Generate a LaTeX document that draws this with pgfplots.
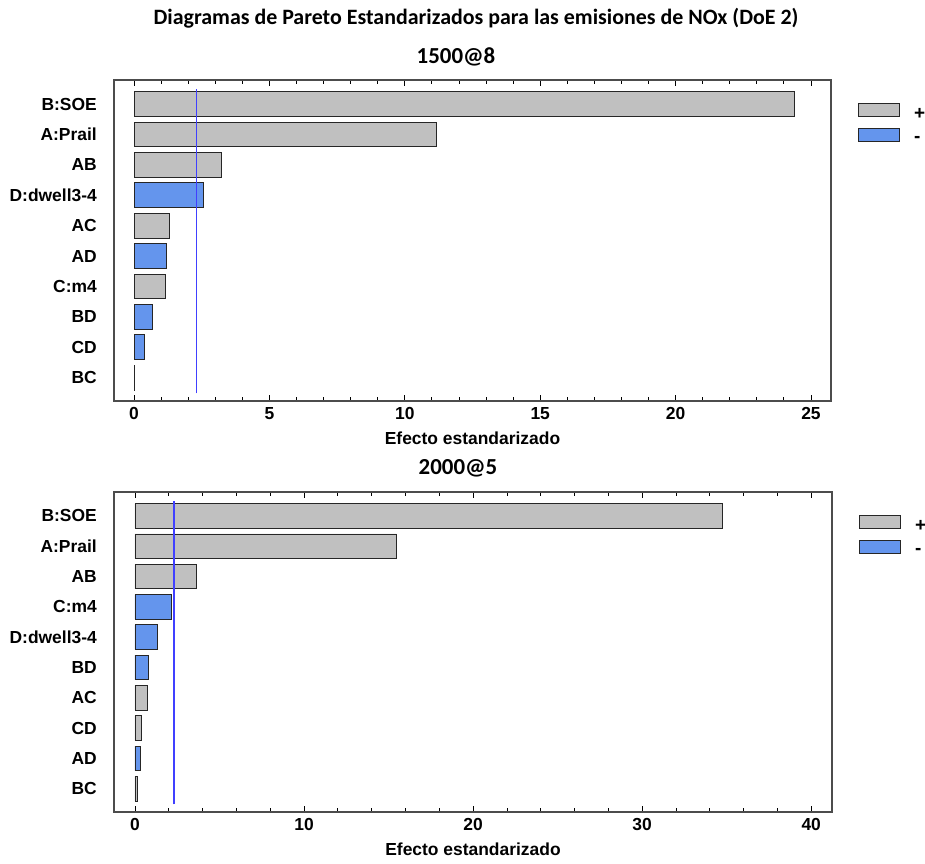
\documentclass[border=0pt]{standalone}
\usepackage{fontspec}
\setmainfont{Liberation Sans}
\newfontfamily\calfont{Carlito}
\usepackage{pgfplots}
\pgfplotsset{compat=1.18}
\definecolor{barg}{RGB}{192,192,192}
\definecolor{barb}{RGB}{100,149,237}
\definecolor{lineb}{RGB}{64,64,255}
\pgfplotsset{
  pareto/.style={
    scale only axis, anchor=north west,
    xbar, bar shift=0pt, bar width=0.81,
    ymin=0.23, ymax=10.79,
    ytick={1,...,10},
    ytick style={draw=none},
    axis line style={black!70, line width=1.2bp},
    xtick style={black, line width=0.8bp},
    major tick length=6bp, minor tick length=4bp,
    tick align=inside,
    xticklabel pos=lower,
    /pgf/number format/assume math mode=true,
    tick label style={font=\bfseries\fontsize{17.5}{19}\selectfont},
    yticklabel style={inner sep=0pt, xshift=-17bp},
    xticklabel style={inner sep=0pt, yshift=-6bp},
    xlabel={Efecto estandarizado},
    xlabel style={font=\bfseries\fontsize{17.5}{19}\selectfont, inner sep=0pt, yshift=-12bp},
    legend style={draw=none, fill=none, inner sep=0pt, outer sep=0pt,
      row sep=7bp, font=\bfseries\fontsize{19}{20}\selectfont,
      nodes={inner sep=0pt}},
    legend cell align=left,
  },
  gbar/.style={fill=barg, draw=black!85, line width=0.8bp},
  bbar/.style={fill=barb, draw=black!85, line width=0.8bp},
  gleg/.style={legend image code/.code={
      \path[draw=none, fill=none] (0,0) -- (56bp,0);
      \draw[fill=barg, draw=black!85, line width=0.8bp] (0,-1.5bp) rectangle (41bp,11.5bp);}},
  bleg/.style={legend image code/.code={
      \path[draw=none, fill=none] (0,0) -- (56bp,0);
      \draw[fill=barb, draw=black!85, line width=0.8bp] (0,-1.5bp) rectangle (41bp,11.5bp);}},
}
\begin{document}
\begin{tikzpicture}
\useasboundingbox (0,0) rectangle (925bp,-864bp);
\node[font=\calfont\bfseries\fontsize{22}{25}\selectfont] at (476bp,-18bp)
  {Diagramas de Pareto Estandarizados para las emisiones de NOx (DoE 2)};
\node[font=\calfont\bfseries\fontsize{23}{26}\selectfont] at (456bp,-57bp) {1500@8};
\node[font=\calfont\bfseries\fontsize{23}{26}\selectfont] at (458bp,-468bp) {2000@5};

% categories listed bottom (1) to top (10)
\begin{axis}[pareto, at={(114bp,-80bp)}, width=717bp, height=321bp,
  xmin=-0.74, xmax=25.74, xtick={0,5,...,25}, minor x tick num=4,
  yticklabels={BC, CD, BD, C:m4, AD, AC, D:dwell3-4, AB, A:Prail, B:SOE},
  legend style={at={(1.0372,0.929)}, anchor=north west}]
\addplot[gbar, forget plot] coordinates {(24.37,10) (11.17,9) (3.21,8) (1.32,6) (1.17,4) (0.03,1)};
\addplot[bbar, forget plot] coordinates {(2.56,7) (1.20,5) (0.66,3) (0.39,2)};
\addplot[lineb, line width=1.4bp, sharp plot, forget plot] coordinates {(2.306,0.48) (2.306,10.48)};
\addlegendimage{gleg}
\addlegendentry{+}
\addlegendimage{bleg}
\addlegendentry{-}
\end{axis}

\begin{axis}[pareto, at={(114bp,-492bp)}, width=718bp, height=320bp,
  xmin=-1.24, xmax=41.23, xtick={0,10,...,40}, minor x tick num=4,
  yticklabels={BC, AD, CD, AC, BD, D:dwell3-4, C:m4, AB, A:Prail, B:SOE},
  legend style={at={(1.0372,0.929)}, anchor=north west}]
\addplot[gbar, forget plot] coordinates {(34.74,10) (15.47,9) (3.63,8) (0.71,4) (0.40,3) (0.14,1)};
\addplot[bbar, forget plot] coordinates {(2.18,7) (1.30,6) (0.77,5) (0.32,2)};
\addplot[lineb, line width=1.4bp, sharp plot, forget plot] coordinates {(2.306,0.48) (2.306,10.48)};
\addlegendimage{gleg}
\addlegendentry{+}
\addlegendimage{bleg}
\addlegendentry{-}
\end{axis}
\end{tikzpicture}
\end{document}
